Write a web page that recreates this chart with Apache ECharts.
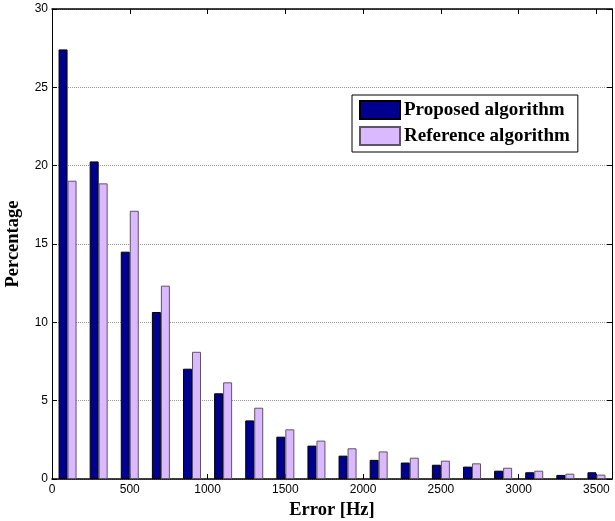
<!DOCTYPE html>
<html>
<head>
<meta charset="utf-8">
<script src="https://cdn.jsdelivr.net/npm/echarts@6/dist/echarts.min.js"></script>
<style>html,body{margin:0;padding:0;background:#fff;}#c{width:615px;height:521px;}</style>
</head>
<body>
<div id="c"></div>
<script>
const errorBins = [100, 300, 500, 700, 900, 1100, 1300, 1500, 1700, 1900, 2100, 2300, 2500, 2700, 2900, 3100, 3300, 3500];
const proposed = [27.42, 20.27, 14.51, 10.66, 7.04, 5.47, 3.74, 2.70, 2.13, 1.49, 1.22, 1.05, 0.91, 0.79, 0.53, 0.43, 0.26, 0.43];
const reference = [19.04, 18.87, 17.12, 12.34, 8.12, 6.17, 4.55, 3.17, 2.45, 1.96, 1.76, 1.36, 1.17, 1.00, 0.72, 0.53, 0.34, 0.28];
const seriesNames = ['Proposed algorithm', 'Reference algorithm'];
const xTicks = [0, 500, 1000, 1500, 2000, 2500, 3000, 3500];
const yTicks = [0, 5, 10, 15, 20, 25, 30];

const chart = echarts.init(document.getElementById('c'), null, {renderer: 'canvas'});
const axisLabelFont = {fontFamily: 'Liberation Sans, Arial, sans-serif', fontSize: 12, color: '#000'};
const serif = 'Liberation Serif, Times New Roman, serif';
const xFmt = v => (xTicks.indexOf(v) >= 0 ? String(v) : '');
const yFmt = v => (yTicks.indexOf(v) >= 0 ? String(v) : '');

const option = {
  animation: false,
  backgroundColor: '#fff',
  grid: {left: 52, right: 3, top: 9, bottom: 42, containLabel: false, outerBoundsMode: 'none'},
  legend: {
    orient: 'vertical',
    left: 352, top: 95,
    data: seriesNames,
    itemWidth: 40, itemHeight: 18, itemGap: 6,
    padding: [5, 8, 6, 7],
    backgroundColor: '#fff', borderColor: '#000', borderWidth: 1,
    icon: 'rect',
    textStyle: {fontFamily: serif, fontWeight: 'bold', fontSize: 19, color: '#000', padding: [0, 0, 0, -1]}
  },
  xAxis: [{
    type: 'value', min: 0, max: 3600, interval: 500,
    name: 'Error [Hz]', nameLocation: 'middle', nameGap: 21,
    nameTextStyle: {fontFamily: serif, fontWeight: 'bold', fontSize: 18.5, color: '#000'},
    axisLine: {show: true, onZero: false, lineStyle: {color: '#000', width: 1.5}},
    axisTick: {show: true, inside: true, length: 5, lineStyle: {color: '#000'}},
    axisLabel: Object.assign({margin: 5, formatter: xFmt, showMaxLabel: false}, axisLabelFont),
    splitLine: {show: false}
  }, {
    type: 'value', min: 0, max: 3600, interval: 500, position: 'top',
    axisLine: {show: true, onZero: false, lineStyle: {color: '#000', width: 1.5}},
    axisTick: {show: true, inside: true, length: 5, lineStyle: {color: '#000'}},
    axisLabel: {show: false}, splitLine: {show: false}
  }],
  yAxis: [{
    type: 'value', min: 0, max: 30, interval: 5,
    name: 'Percentage', nameLocation: 'middle', nameGap: 29, nameRotate: 90,
    nameTextStyle: {fontFamily: serif, fontWeight: 'bold', fontSize: 18.5, color: '#000'},
    axisLine: {show: true, onZero: false, lineStyle: {color: '#000', width: 1}},
    axisTick: {show: true, inside: true, length: 5, lineStyle: {color: '#000'}},
    axisLabel: Object.assign({margin: 4, formatter: yFmt}, axisLabelFont),
    splitLine: {show: true, lineStyle: {color: '#999', type: 'dotted', width: 1}}
  }, {
    type: 'value', min: 0, max: 30, interval: 5, position: 'right',
    axisLine: {show: true, onZero: false, lineStyle: {color: '#000', width: 1}},
    axisTick: {show: true, inside: true, length: 5, lineStyle: {color: '#000'}},
    axisLabel: {show: false}, splitLine: {show: false}
  }],
  series: [{
    name: seriesNames[0], type: 'bar', xAxisIndex: 0, yAxisIndex: 0,
    barWidth: 9, barGap: '0%',
    itemStyle: {color: '#00008E', borderColor: '#000', borderWidth: 1},
    data: errorBins.map((x, i) => [x, proposed[i]])
  }, {
    name: seriesNames[1], type: 'bar', xAxisIndex: 0, yAxisIndex: 0,
    barWidth: 9, barGap: '0%',
    itemStyle: {color: '#DAB9FF', borderColor: '#5E5466', borderWidth: 1},
    data: errorBins.map((x, i) => [x, reference[i]])
  }]
};
chart.setOption(option);
</script>
</body>
</html>
